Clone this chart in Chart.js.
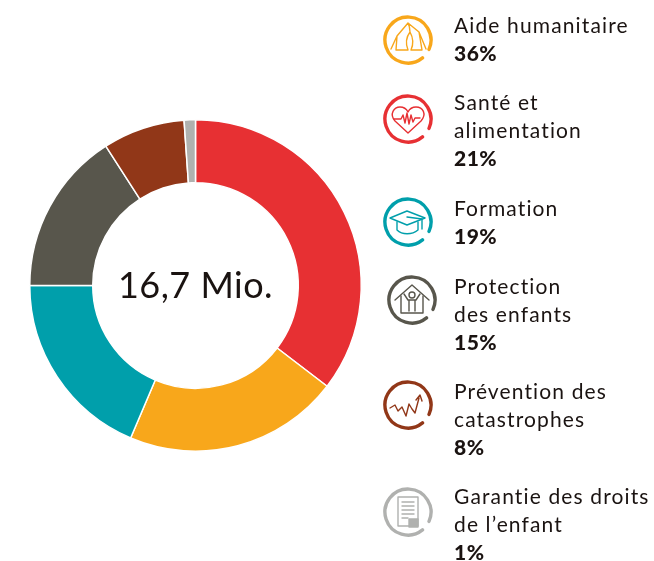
<!DOCTYPE html>
<html lang="fr">
<head>
<meta charset="utf-8">
<title>16,7 Mio.</title>
<script src="https://cdn.jsdelivr.net/npm/chart.js@4"></script>
<style>
    html, body { margin: 0; padding: 0; background: #fff; }
    body { position: relative; width: 654px; height: 561px; overflow: hidden; font-family: Lato, sans-serif; color: #1a1311; }
    #chartWrap { position: absolute; left: 20px; top: 110px; width: 351px; height: 351px; }
    #legend { position: absolute; left: 0; top: 0; width: 648px; height: 561px; overflow: hidden; }
    .legend-text { position: absolute; left: 454px; font-size: 21px; line-height: 27.8px; letter-spacing: 1.13px; white-space: nowrap; }
    .legend-text b { font-weight: 900; letter-spacing: 0.5px; }
    .legend-icon { position: absolute; width: 50px; height: 50px; }
</style>
</head>
<body>
<div id="chartWrap"><canvas id="donutChart"></canvas></div>
<div id="legend"></div>

<script>
    const sliceValues = [35.4, 21, 18.6, 15.9, 8, 1.1];
    const sliceColors = ['#e73033', '#f8a71b', '#009fab', '#58564c', '#913718', '#b0b1af'];
    const centerLabel = '16,7 Mio.';

    // Legend, top to bottom
    const legendLines = [
        ['Aide humanitaire'],
        ['Santé et', 'alimentation'],
        ['Formation'],
        ['Protection', 'des enfants'],
        ['Prévention des', 'catastrophes'],
        ['Garantie des droits', 'de l’enfant']
    ];
    const legendPercents = ['36%', '21%', '19%', '15%', '8%', '1%'];
    const legendColors = ['#f8a71b', '#e73033', '#009fab', '#58564c', '#913718', '#b0b1af'];
    const legendTextTops = [11, 88, 194, 272, 377, 482];
    const legendIconLeft = [383, 383, 383, 387, 383, 383];
    const legendIconTop = [15, 94, 197, 275, 380, 487];

    // Small pictograms inside the rings
    const iconGlyphs = [
        '<path d="M8 34 L14 21 L25 8 L36 17 L43 34 M14 21 L13 35 H25 Q21 25 27 17 Q32 26 28 35 H39 L36 17 M25 8 Q27 12 27 17" />',
        '<path d="M25 39 L12 27 C6 20 11 13 17 13 C21 13 24 16 25 18 C26 16 29 13 33 13 C40 13 44 20 38 27 Z" /><path d="M11 25 H18 L20 21 L22 29 L24 19 L26 30 L28 21 L30 28 L32 24 H37" />',
        '<path d="M7 21 L24 14 L42 21 L24 28 Z" /><path d="M14 25 V33 C19 38 29 38 35 33 V25" /><path d="M24 20 L39 22 V32" />',
        '<path d="M8 25 L25 10 L42 25" /><path d="M14 21 V38 H36 V21" /><circle cx="25" cy="20" r="3" /><path d="M17 19 L21 25 H29 L33 19 M22 25 V36 M28 25 V36" />',
        '<path d="M7 28 L12 25 L15 31 L19 27 L23 36 L26 24 L29 29 L32 33 L36 18 M33 20 L37 15 L39 21" />',
        '<path d="M15 10 H35 V39 H15 Z" /><path d="M19 15 H31 M19 19 H31 M19 23 H31 M19 27 H31 M19 31 H25" /><rect x="26" y="32" width="9" height="8" fill="currentColor" />'
    ];
    const ringPath = 'M39.5 42.9 A23 23 0 1 1 46 34.4';

    // Build the legend
    const legend = document.getElementById('legend');
    legendLines.forEach((lines, i) => {
        const icon = document.createElement('div');
        icon.className = 'legend-icon';
        icon.style.left = legendIconLeft[i] + 'px';
        icon.style.top = legendIconTop[i] + 'px';
        icon.style.color = legendColors[i];
        icon.innerHTML = '<svg width="50" height="50" viewBox="0 0 50 50" fill="none" stroke="currentColor" stroke-linecap="round" stroke-linejoin="round">' +
            '<path d="' + ringPath + '" stroke-width="3.4" />' +
            '<g stroke-width="1.4">' + iconGlyphs[i] + '</g></svg>';
        legend.appendChild(icon);

        const text = document.createElement('div');
        text.className = 'legend-text';
        text.style.top = legendTextTops[i] + 'px';
        text.innerHTML = lines.join('<br>') + '<br><b>' + legendPercents[i] + '</b>';
        legend.appendChild(text);
    });

    // Center label
    const centerText = {
        id: 'centerText',
        afterDraw(chart) {
            const arc = chart.getDatasetMeta(0).data[0];
            const ctx = chart.ctx;
            ctx.save();
            ctx.font = '36px Lato, sans-serif';
            ctx.fillStyle = '#1a1311';
            ctx.textAlign = 'center';
            ctx.textBaseline = 'middle';
            ctx.letterSpacing = '0.5px';
            ctx.fillText(centerLabel, arc.x, arc.y + 1);
            ctx.restore();
        }
    };

    new Chart(document.getElementById('donutChart'), {
        type: 'doughnut',
        data: {
            labels: legendLines.map(lines => lines.join(' ')),
            datasets: [{
                data: sliceValues,
                backgroundColor: sliceColors,
                borderColor: '#ffffff',
                borderWidth: 1.5
            }]
        },
        options: {
            responsive: true,
            maintainAspectRatio: false,
            animation: false,
            cutout: '62%',
            layout: { padding: 9 },
            plugins: {
                legend: { display: false },
                tooltip: { enabled: false }
            }
        },
        plugins: [centerText]
    });
</script>
</body>
</html>
